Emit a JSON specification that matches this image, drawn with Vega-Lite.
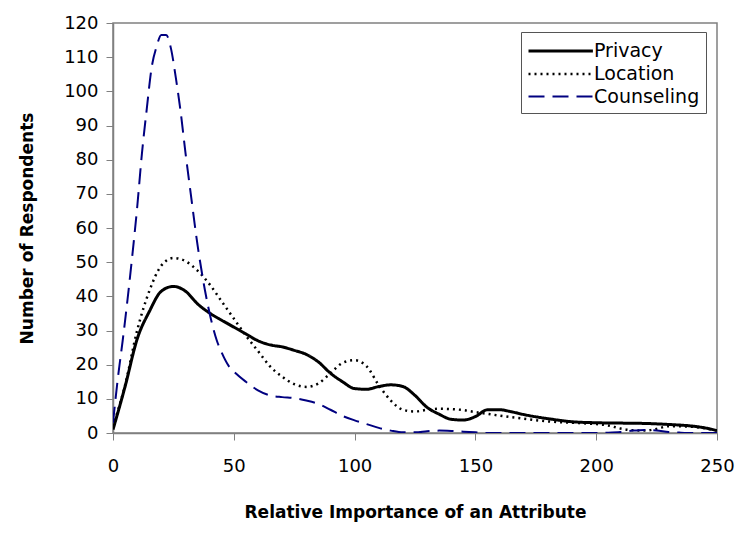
{
  "$schema": "https://vega.github.io/schema/vega-lite/v6.json",
  "autosize": "none",
  "width": 604,
  "height": 410,
  "padding": {"left": 113, "top": 23, "right": 35, "bottom": 110},
  "background": "white",
  "config": {
    "font": "DejaVu Sans",
    "view": {"stroke": "#808080", "strokeWidth": 1.5},
    "axis": {"grid": false, "domainColor": "#808080", "tickColor": "#808080", "labelColor": "black", "titleColor": "black", "labelFont": "DejaVu Sans", "titleFont": "DejaVu Sans", "labelFontSize": 18, "titleFontSize": 17, "titleFontWeight": "bold", "tickSize": 7, "domainWidth": 1.5}
  },
  "datasets": {
    "curves": [
      {"series": "Privacy", "x": 0, "y": 1},
      {"series": "Privacy", "x": 5, "y": 13.6},
      {"series": "Privacy", "x": 10, "y": 27.5},
      {"series": "Privacy", "x": 15, "y": 35.5},
      {"series": "Privacy", "x": 20, "y": 41.5},
      {"series": "Privacy", "x": 25, "y": 42.9},
      {"series": "Privacy", "x": 30, "y": 41.5},
      {"series": "Privacy", "x": 35, "y": 37.8},
      {"series": "Privacy", "x": 40, "y": 35.1},
      {"series": "Privacy", "x": 45, "y": 33},
      {"series": "Privacy", "x": 50, "y": 31},
      {"series": "Privacy", "x": 55, "y": 29},
      {"series": "Privacy", "x": 60, "y": 27},
      {"series": "Privacy", "x": 65, "y": 25.8},
      {"series": "Privacy", "x": 70, "y": 25.2},
      {"series": "Privacy", "x": 75, "y": 24.2},
      {"series": "Privacy", "x": 80, "y": 23},
      {"series": "Privacy", "x": 85, "y": 20.8},
      {"series": "Privacy", "x": 90, "y": 17.5},
      {"series": "Privacy", "x": 95, "y": 15},
      {"series": "Privacy", "x": 100, "y": 13},
      {"series": "Privacy", "x": 105, "y": 12.8},
      {"series": "Privacy", "x": 110, "y": 13.6},
      {"series": "Privacy", "x": 115, "y": 14.1},
      {"series": "Privacy", "x": 120, "y": 13.6},
      {"series": "Privacy", "x": 125, "y": 11},
      {"series": "Privacy", "x": 130, "y": 7.5},
      {"series": "Privacy", "x": 135, "y": 5.5},
      {"series": "Privacy", "x": 140, "y": 4},
      {"series": "Privacy", "x": 145, "y": 3.8},
      {"series": "Privacy", "x": 150, "y": 4.8},
      {"series": "Privacy", "x": 155, "y": 6.8},
      {"series": "Privacy", "x": 160, "y": 6.8},
      {"series": "Privacy", "x": 165, "y": 6.2},
      {"series": "Privacy", "x": 170, "y": 5.4},
      {"series": "Privacy", "x": 180, "y": 4.2},
      {"series": "Privacy", "x": 190, "y": 3.3},
      {"series": "Privacy", "x": 200, "y": 3},
      {"series": "Privacy", "x": 210, "y": 2.9},
      {"series": "Privacy", "x": 220, "y": 2.8},
      {"series": "Privacy", "x": 230, "y": 2.5},
      {"series": "Privacy", "x": 240, "y": 2},
      {"series": "Privacy", "x": 245, "y": 1.5},
      {"series": "Privacy", "x": 250, "y": 0.7},
      {"series": "Location", "x": 0, "y": 2},
      {"series": "Location", "x": 5, "y": 14},
      {"series": "Location", "x": 10, "y": 30},
      {"series": "Location", "x": 15, "y": 41.5},
      {"series": "Location", "x": 20, "y": 49},
      {"series": "Location", "x": 25, "y": 51.2},
      {"series": "Location", "x": 30, "y": 50.3},
      {"series": "Location", "x": 35, "y": 47.5},
      {"series": "Location", "x": 40, "y": 43.5},
      {"series": "Location", "x": 45, "y": 38.5},
      {"series": "Location", "x": 50, "y": 33.5},
      {"series": "Location", "x": 55, "y": 28.5},
      {"series": "Location", "x": 60, "y": 24},
      {"series": "Location", "x": 65, "y": 19.5},
      {"series": "Location", "x": 70, "y": 16.5},
      {"series": "Location", "x": 75, "y": 14.3},
      {"series": "Location", "x": 80, "y": 13.5},
      {"series": "Location", "x": 85, "y": 14.5},
      {"series": "Location", "x": 90, "y": 17.5},
      {"series": "Location", "x": 95, "y": 20.5},
      {"series": "Location", "x": 100, "y": 21.3},
      {"series": "Location", "x": 105, "y": 19.5},
      {"series": "Location", "x": 110, "y": 14},
      {"series": "Location", "x": 115, "y": 9.5},
      {"series": "Location", "x": 120, "y": 6.8},
      {"series": "Location", "x": 125, "y": 6.3},
      {"series": "Location", "x": 130, "y": 6.8},
      {"series": "Location", "x": 135, "y": 7.1},
      {"series": "Location", "x": 140, "y": 7},
      {"series": "Location", "x": 145, "y": 6.7},
      {"series": "Location", "x": 150, "y": 6.1},
      {"series": "Location", "x": 155, "y": 5.6},
      {"series": "Location", "x": 160, "y": 5.1},
      {"series": "Location", "x": 170, "y": 4.2},
      {"series": "Location", "x": 180, "y": 3.4},
      {"series": "Location", "x": 190, "y": 3},
      {"series": "Location", "x": 200, "y": 2.6},
      {"series": "Location", "x": 205, "y": 2.2},
      {"series": "Location", "x": 210, "y": 1.3},
      {"series": "Location", "x": 215, "y": 0.8},
      {"series": "Location", "x": 220, "y": 0.7},
      {"series": "Location", "x": 225, "y": 1.2},
      {"series": "Location", "x": 230, "y": 2},
      {"series": "Location", "x": 240, "y": 1.8},
      {"series": "Location", "x": 250, "y": 0.7},
      {"series": "Counseling", "x": 0, "y": 3},
      {"series": "Counseling", "x": 2, "y": 16},
      {"series": "Counseling", "x": 4, "y": 27},
      {"series": "Counseling", "x": 6, "y": 39},
      {"series": "Counseling", "x": 8, "y": 52},
      {"series": "Counseling", "x": 10, "y": 66},
      {"series": "Counseling", "x": 12, "y": 82},
      {"series": "Counseling", "x": 14, "y": 95},
      {"series": "Counseling", "x": 16, "y": 107},
      {"series": "Counseling", "x": 18, "y": 113},
      {"series": "Counseling", "x": 20, "y": 116.5},
      {"series": "Counseling", "x": 22, "y": 116.5},
      {"series": "Counseling", "x": 24, "y": 112.5},
      {"series": "Counseling", "x": 26, "y": 104},
      {"series": "Counseling", "x": 28, "y": 94},
      {"series": "Counseling", "x": 30, "y": 82},
      {"series": "Counseling", "x": 32, "y": 71},
      {"series": "Counseling", "x": 35, "y": 55},
      {"series": "Counseling", "x": 38, "y": 42},
      {"series": "Counseling", "x": 40, "y": 35},
      {"series": "Counseling", "x": 43, "y": 27},
      {"series": "Counseling", "x": 45, "y": 23.5},
      {"series": "Counseling", "x": 48, "y": 19.5},
      {"series": "Counseling", "x": 50, "y": 18},
      {"series": "Counseling", "x": 55, "y": 15},
      {"series": "Counseling", "x": 60, "y": 12.5},
      {"series": "Counseling", "x": 65, "y": 11},
      {"series": "Counseling", "x": 70, "y": 10.5},
      {"series": "Counseling", "x": 75, "y": 10.2},
      {"series": "Counseling", "x": 80, "y": 9.5},
      {"series": "Counseling", "x": 85, "y": 8.5},
      {"series": "Counseling", "x": 90, "y": 6.8},
      {"series": "Counseling", "x": 95, "y": 5},
      {"series": "Counseling", "x": 100, "y": 3.7},
      {"series": "Counseling", "x": 105, "y": 2.6},
      {"series": "Counseling", "x": 110, "y": 1.5},
      {"series": "Counseling", "x": 115, "y": 0.7},
      {"series": "Counseling", "x": 120, "y": 0.2},
      {"series": "Counseling", "x": 125, "y": 0.2},
      {"series": "Counseling", "x": 130, "y": 0.5},
      {"series": "Counseling", "x": 135, "y": 0.7},
      {"series": "Counseling", "x": 140, "y": 0.6},
      {"series": "Counseling", "x": 145, "y": 0.4},
      {"series": "Counseling", "x": 150, "y": 0.2},
      {"series": "Counseling", "x": 155, "y": 0},
      {"series": "Counseling", "x": 160, "y": 0},
      {"series": "Counseling", "x": 200, "y": 0},
      {"series": "Counseling", "x": 205, "y": 0.1},
      {"series": "Counseling", "x": 210, "y": 0.3},
      {"series": "Counseling", "x": 215, "y": 0.7},
      {"series": "Counseling", "x": 220, "y": 0.9},
      {"series": "Counseling", "x": 225, "y": 0.7},
      {"series": "Counseling", "x": 230, "y": 0.3},
      {"series": "Counseling", "x": 235, "y": 0.1},
      {"series": "Counseling", "x": 240, "y": 0},
      {"series": "Counseling", "x": 250, "y": 0}
    ]
  },
  "data": {"name": "curves"},
  "mark": {"type": "line", "interpolate": "monotone", "clip": true},
  "encoding": {
    "x": {"field": "x", "type": "quantitative", "scale": {"domain": [0, 250], "nice": false, "zero": true},
      "axis": {"values": [0, 50, 100, 150, 200, 250], "title": "Relative Importance of an Attribute", "labelPadding": 17, "titlePadding": 29, "labelFlush": false}},
    "y": {"field": "y", "type": "quantitative", "scale": {"domain": [0, 120], "nice": false},
      "axis": {"values": [0, 10, 20, 30, 40, 50, 60, 70, 80, 90, 100, 110, 120], "title": "Number of Respondents", "labelPadding": 8, "titlePadding": 27}},
    "color": {"field": "series", "type": "nominal",
      "scale": {"domain": ["Privacy", "Location", "Counseling"], "range": ["#000000", "#000000", "#000080"]},
      "legend": {"title": null, "orient": "none", "legendX": 408, "legendY": 9, "strokeColor": "#555555", "fillColor": "white", "padding": 6, "symbolType": "M-1,0H4.6", "symbolSize": 529, "labelFontSize": 19, "labelFont": "DejaVu Sans", "labelColor": "black", "labelOffset": 41, "rowPadding": 0}},
    "strokeDash": {"field": "series", "type": "nominal",
      "scale": {"domain": ["Privacy", "Location", "Counseling"], "range": [[1, 0], [2, 4], [16, 8]]},
      "legend": null},
    "strokeWidth": {"field": "series", "type": "nominal",
      "scale": {"domain": ["Privacy", "Location", "Counseling"], "range": [3, 2, 4]},
      "legend": null}
  }
}
